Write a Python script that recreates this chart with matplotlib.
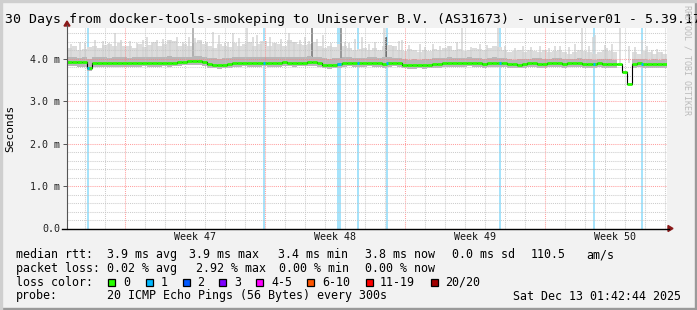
import numpy as np
import pandas as pd
import matplotlib
matplotlib.use("Agg")
import matplotlib.pyplot as plt
from matplotlib.patches import Rectangle, Polygon
from matplotlib.lines import Line2D
from matplotlib.ticker import FixedLocator, FuncFormatter

W, H = 697, 310
START = pd.Timestamp("2025-11-13 02:50")
N_DAYS = 30
MONO = "DejaVu Sans Mono"

# median rtt in ms, one value per 6 h step
median_ms = [
    3.93, 3.93, 3.92, 3.92, 3.78,
    3.89, 3.89, 3.90, 3.89, 3.89,
    3.90, 3.89, 3.89, 3.90, 3.90, 3.91,
    3.90, 3.89, 3.90, 3.91, 3.90,
    3.91, 3.92, 3.93, 3.94, 3.95, 3.94, 3.92,
    3.87, 3.86, 3.85, 3.86, 3.87, 3.89,
    3.90, 3.91, 3.90, 3.89, 3.90, 3.91, 3.90, 3.89, 3.90, 3.92, 3.91, 3.90, 3.91,
    3.91, 3.93, 3.92, 3.89, 3.86, 3.85, 3.86, 3.88,
    3.90, 3.91, 3.90, 3.89, 3.90, 3.91, 3.90, 3.89, 3.88, 3.90, 3.91, 3.90,
    3.86, 3.85, 3.85, 3.86, 3.85, 3.86, 3.87, 3.88, 3.89, 3.90,
    3.90, 3.89, 3.90, 3.91, 3.90, 3.89, 3.88, 3.89, 3.90, 3.90, 3.89, 3.88, 3.87, 3.86,
    3.88, 3.89, 3.90, 3.88, 3.87, 3.89, 3.90, 3.89, 3.88, 3.89,
    3.90, 3.89, 3.88, 3.87, 3.88, 3.89, 3.88, 3.87, 3.88, 3.88,
    3.69, 3.40,
    3.88, 3.89, 3.88, 3.87, 3.88, 3.87, 3.88,
]

# smoke (ping spread) per 6 h step: top of light band, top of dark band, bottom
smoke_top_ms = [
    4.25, 4.30, 4.20, 4.22, 4.28, 4.30, 4.25, 4.32, 4.35, 4.30, 4.38, 4.30,
    4.30, 4.25, 4.35, 4.28, 4.32, 4.40, 4.30, 4.35, 4.45, 4.42, 4.30, 4.35,
    4.30, 4.38, 4.45, 4.35, 4.30, 4.25, 4.35, 4.30, 4.28, 4.38, 4.30, 4.35,
    4.40, 4.30, 4.35, 4.42, 4.30, 4.38, 4.35, 4.30, 4.45, 4.40, 4.35, 4.32,
    4.35, 4.40, 4.30, 4.25, 4.30, 4.28, 4.35, 4.30, 4.25, 4.20, 4.22, 4.25,
    4.20, 4.25, 4.20, 4.30, 4.32, 4.30, 4.20, 4.18, 4.22, 4.20, 4.15, 4.20,
    4.18, 4.22, 4.20, 4.25, 4.30, 4.20, 4.22, 4.18, 4.20, 4.25, 4.22, 4.20,
    4.25, 4.30, 4.28, 4.20, 4.15, 4.18, 4.20, 4.15, 4.20, 4.18, 4.15, 4.20,
    4.15, 4.18, 4.20, 4.15, 4.12, 4.15, 4.20, 4.18, 4.15, 4.12, 4.15, 4.20,
    4.18, 4.15, 4.20, np.nan, np.nan, 4.15, 4.12, 4.18, 4.15, 4.12, 4.15, 4.10,
]
smoke_mid_ms = [
    4.03, 4.04, 4.02, 4.03, 4.00, 4.04, 4.03, 4.05, 4.02, 4.03, 4.04, 4.03,
    4.02, 4.04, 4.05, 4.03, 4.04, 4.05, 4.03, 4.04, 4.06, 4.05, 4.03, 4.04,
    4.05, 4.06, 4.07, 4.05, 4.02, 4.01, 4.00, 4.01, 4.02, 4.03, 4.04, 4.05,
    4.04, 4.03, 4.04, 4.05, 4.03, 4.04, 4.03, 4.04, 4.05, 4.04, 4.03, 4.05,
    4.06, 4.05, 4.03, 4.01, 4.00, 4.01, 4.02, 4.03, 4.04, 4.02, 4.01, 4.02,
    4.03, 4.04, 4.02, 4.03, 4.04, 4.02, 4.01, 3.99, 3.98, 3.99, 3.98, 3.99,
    4.00, 4.01, 4.02, 4.02, 4.03, 4.02, 4.01, 4.02, 4.03, 4.02, 4.01, 4.00,
    4.02, 4.03, 4.02, 4.01, 3.99, 3.98, 4.00, 3.99, 4.00, 4.01, 4.02, 4.00,
    3.99, 4.01, 4.02, 4.00, 3.99, 4.00, 4.01, 4.00, 3.99, 3.98, 3.99, 4.00,
    3.99, 3.98, 3.99, np.nan, np.nan, 3.99, 4.00, 3.99, 3.98, 3.99, 3.98, 3.99,
]
smoke_low_ms = [
    3.82, 3.82, 3.81, 3.81, 3.72, 3.80, 3.80, 3.81, 3.80, 3.80, 3.81, 3.80,
    3.80, 3.81, 3.81, 3.82, 3.81, 3.80, 3.81, 3.82, 3.81, 3.82, 3.83, 3.84,
    3.84, 3.85, 3.84, 3.83, 3.78, 3.77, 3.76, 3.77, 3.78, 3.80, 3.81, 3.82,
    3.81, 3.80, 3.81, 3.82, 3.81, 3.80, 3.81, 3.83, 3.82, 3.81, 3.82, 3.82,
    3.83, 3.83, 3.80, 3.77, 3.76, 3.77, 3.79, 3.81, 3.82, 3.81, 3.80, 3.81,
    3.82, 3.81, 3.80, 3.79, 3.81, 3.82, 3.81, 3.77, 3.76, 3.76, 3.77, 3.76,
    3.77, 3.78, 3.79, 3.80, 3.81, 3.81, 3.80, 3.81, 3.82, 3.81, 3.80, 3.79,
    3.80, 3.81, 3.81, 3.80, 3.79, 3.78, 3.77, 3.79, 3.80, 3.81, 3.79, 3.78,
    3.80, 3.81, 3.80, 3.79, 3.80, 3.81, 3.80, 3.79, 3.78, 3.79, 3.80, 3.79,
    3.78, 3.79, 3.79, np.nan, np.nan, 3.79, 3.80, 3.79, 3.78, 3.79, 3.78, 3.79,
]

# single tall smoke columns: day since start, top (ms)
spike_day = [0.2, 0.65, 0.9, 1.4, 1.8, 2.1, 2.4, 2.7, 3.15, 3.5, 3.8, 4.0, 4.25,
             4.5, 4.8, 5.15, 5.5, 5.8, 6.1, 6.4, 6.7, 7.0, 7.3, 7.6, 7.9, 8.05,
             8.3, 8.6, 9.0, 9.3, 9.5, 9.7, 10.15, 10.4, 10.7, 11.1, 11.35, 11.65,
             11.9, 12.1, 12.5, 12.8, 13.2, 13.9, 14.1, 14.4, 14.75, 15.1, 15.4,
             15.85, 16.3, 16.6, 16.75, 17.1, 17.65, 17.9, 18.3, 18.65, 19.1,
             19.5, 19.75, 20.2, 20.65, 21.0, 21.55, 21.9, 22.4, 22.8, 23.2,
             23.65, 24.1, 24.4, 24.65, 25.1, 25.4, 25.75, 26.1, 26.3, 26.4,
             26.9, 27.0, 27.25, 27.65, 28.1, 28.4, 28.75, 29.0, 29.25, 29.5, 29.75]
spike_top_ms = [4.35, 4.40, 4.38, 4.45, 4.42, 4.36, 4.60, 4.45, 4.42, 4.38, 4.44,
                4.50, 4.36, 4.44, 4.46, 4.45, 4.52, 4.40, 4.50, 4.48, 4.42, 4.40,
                4.64, 4.55, 4.38, 4.40, 4.60, 4.48, 4.72, 4.50, 4.56, 4.42, 4.50,
                4.38, 4.46, 4.60, 4.40, 4.45, 4.50, 4.42, 4.46, 4.55, 4.38, 4.40,
                4.36, 4.46, 4.52, 4.35, 4.40, 4.72, 4.30, 4.42, 4.45, 4.32, 4.35,
                4.28, 4.35, 4.30, 4.30, 4.40, 4.72, 4.28, 4.35, 4.32, 4.72, 4.30,
                4.25, 4.30, 4.28, 4.30, 4.25, 4.30, 4.30, 4.28, 4.35, 4.72, 4.30,
                4.52, 4.56, 4.32, 4.25, 4.35, 4.72, 4.30, 4.28, 4.44, 4.30, 4.20,
                4.22, 4.16]
dark_spike_day = [6.3, 12.25, 13.7, 15.95]
dark_spike_low = [4.00, 3.95, 3.95, 3.95]
dark_spike_top = [4.72, 4.72, 4.72, 4.50]
dark_spike_color = ["#a8a8a8", "#7c7c7c", "#8c8c8c", "#5c5c5c"]

# packet loss events (1 of 20 lost): day since start, duration in hours
loss_day = [1.05, 9.85, 13.6, 14.55, 16.0, 21.65, 26.37, 28.75]
loss_hours = [2.0, 2.0, 4.8, 2.4, 2.4, 2.4, 2.4, 2.4]

loss_labels = ["0", "1", "2", "3", "4-5", "6-10", "11-19", "20/20"]
loss_colors = ["#26ff00", "#00b8ff", "#0059ff", "#7e00ff",
               "#ff00ff", "#ff5500", "#ff0000", "#a10000"]

median_stats = ["3.9 ms avg", "3.9 ms max", "3.4 ms min", "3.8 ms now",
                "0.0 ms sd", "110.5", "am/s"]
loss_stats = ["0.02 % avg", "2.92 % max", "0.00 % min", "0.00 % now"]
title = ("30 Days from docker-tools-smokeping to Uniserver B.V. (AS31673)"
         " - uniserver01 - 5.39.17")
probe_text = "20 ICMP Echo Pings (56 Bytes) every 300s"
stamp_text = "Sat Dec 13 01:42:44 2025"


def fx(x):
    return x / W


def fy(y):
    return 1 - y / H


def day(d):
    return START + pd.Timedelta(days=d)


fig = plt.figure(figsize=(W / 100, H / 100), dpi=100, facecolor="#f2f2f2")

# 3d-ish frame
fig.add_artist(Rectangle((0, 0), 1, 2 / H, transform=fig.transFigure, color="#9a9a9a"))
fig.add_artist(Rectangle((1 - 2 / W, 0), 2 / W, 1, transform=fig.transFigure, color="#9a9a9a"))
fig.add_artist(Rectangle((0, 1 - 2 / H), 1, 2 / H, transform=fig.transFigure, color="#cfcfcf"))
fig.add_artist(Rectangle((0, 0), 2 / W, 1, transform=fig.transFigure, color="#cfcfcf"))

ymax = 200.5 / 42.45
ax = fig.add_axes([fx(67), fy(228.5), 600 / W, 200.5 / H])
ax.set_facecolor("white")
ax.set_xlim(START, START + pd.Timedelta(days=N_DAYS))
ax.set_ylim(0, ymax)

t = pd.date_range(START, periods=len(median_ms) + 1, freq="6h")
ext = lambda v: list(v) + [v[-1]]

# loss background bars
for d, hrs in zip(loss_day, loss_hours):
    x0 = day(d) - pd.Timedelta(hours=hrs / 2)
    ax.axvspan(x0, x0 + pd.Timedelta(hours=hrs), color="#a6e3fb", lw=0, zorder=0.5)

# smoke
ax.fill_between(t, ext(smoke_low_ms), ext(smoke_top_ms), step="post",
                color="#dcdcdc", lw=0, zorder=1)
for d, top in zip(spike_day, spike_top_ms):
    ax.vlines(day(d), 3.9, top, color="#d4d4d4", lw=1.1, zorder=1.1)
for d, lo, hi, c in zip(dark_spike_day, dark_spike_low, dark_spike_top, dark_spike_color):
    ax.vlines(day(d), lo, hi, color=c, lw=1.2, zorder=1.2)
ax.fill_between(t, ext(smoke_low_ms), ext(smoke_mid_ms), step="post",
                color="#b8b8b8", lw=0, zorder=1.3)

# median: thin black step line + green per-step segments
ax.step(t, ext(median_ms), where="post", color="black", lw=0.8, zorder=3)
ax.hlines(median_ms, t[:-1], t[1:], color=loss_colors[0], lw=2.0, zorder=3.1)
for d, hrs in zip(loss_day, loss_hours):
    i = int(d * 4)
    x0 = day(d) - pd.Timedelta(hours=hrs / 2)
    ax.hlines(median_ms[i], x0, x0 + pd.Timedelta(hours=hrs),
              color=loss_colors[1], lw=2.0, zorder=3.2)

# grid drawn over the data, rrdtool style
days = pd.date_range("2025-11-14", "2025-12-13", freq="D")
weeks = pd.date_range("2025-11-16", periods=4, freq="7D")
ax.xaxis.set_major_locator(FixedLocator([matplotlib.dates.date2num(w) for w in weeks]))
ax.xaxis.set_minor_locator(FixedLocator([matplotlib.dates.date2num(d) for d in days]))
ax.yaxis.set_major_locator(FixedLocator([0, 1, 2, 3, 4]))
ax.yaxis.set_minor_locator(FixedLocator(np.arange(0.2, 4.8, 0.2)))
ax.yaxis.set_major_formatter(FuncFormatter(lambda v, p: "0.0" if v == 0 else f"{v:.1f} m"))
ax.set_axisbelow(False)
ax.grid(which="minor", color="#c4c4c4", lw=0.75, linestyle=(0, (1, 1)), alpha=0.85)
ax.grid(which="major", color="#ff8080", lw=0.75, linestyle=(0, (1, 1)), alpha=0.75)
ax.tick_params(axis="x", which="both", length=0, labelbottom=False)
ax.tick_params(axis="y", which="major", length=3, width=0.7, color="#555555",
               pad=2, labelsize=7.2, labelfontfamily=MONO, labelcolor="#222222")
ax.tick_params(axis="y", which="minor", length=0)
for s in ax.spines.values():
    s.set_visible(False)

for w in weeks:
    ax.text(w + pd.Timedelta(days=3.5), -8.5 / 200.5,
            "Week %d" % (w + pd.Timedelta(days=3)).isocalendar()[1],
            transform=ax.get_xaxis_transform(), ha="center", va="center",
            fontsize=7.2, family=MONO, color="#111111")

# axes lines and arrows
fig.add_artist(Line2D([fx(67), fx(67)], [fy(228.5), fy(25)], color="#555555", lw=0.8))
fig.add_artist(Line2D([fx(62), fx(669)], [fy(228.5), fy(228.5)], color="black", lw=1.0))
fig.add_artist(Polygon([[fx(64), fy(26)], [fx(70), fy(26)], [fx(67), fy(21)]],
                       closed=True, color="#8b1a1a", transform=fig.transFigure))
fig.add_artist(Polygon([[fx(668), fy(225.5)], [fx(668), fy(231.5)], [fx(673), fy(228.5)]],
                       closed=True, color="#8b1a1a", transform=fig.transFigure))

# texts
fig.text(fx(5), fy(19), title, ha="left", va="center", fontsize=9.5, family=MONO)
fig.text(fx(10), fy(128), "Seconds", rotation=90, ha="center", va="center",
         fontsize=8, family=MONO)
fig.text(fx(687), fy(5), "RRDTOOL / TOBI OETIKER", rotation=270, ha="center", va="top",
         fontsize=6, family=MONO, color="#bbbbbb")

LEG = dict(fontsize=8.4, family=MONO, va="center", ha="left")
rows = [254.5, 268.3, 282.3, 296.0]
fig.text(fx(16), fy(rows[0]), "median rtt:", **LEG)
for s, x in zip(median_stats, [107, 189, 278, 365, 452, 531, 586]):
    fig.text(fx(x), fy(rows[0]), s, **LEG)
fig.text(fx(16), fy(rows[1]), "packet loss:", **LEG)
for s, x in zip(loss_stats, [107, 196, 279, 365]):
    fig.text(fx(x), fy(rows[1]), s, **LEG)
fig.text(fx(16), fy(rows[2]), "loss color:", **LEG)
box_x = [108, 146, 183, 219, 256, 307, 366, 431]
lab_x = [123, 161, 197, 234, 271, 322, 380, 445]
for lab, c, bx, lx in zip(loss_labels, loss_colors, box_x, lab_x):
    fig.add_artist(Rectangle((fx(bx), fy(286)), 7 / W, 7 / H, transform=fig.transFigure,
                             facecolor=c, edgecolor="black", lw=0.9))
    fig.text(fx(lx), fy(rows[2]), lab, **LEG)
fig.text(fx(16), fy(rows[3]), "probe:", **LEG)
fig.text(fx(107), fy(rows[3]), probe_text, **LEG)
fig.text(fx(513), fy(rows[3]), stamp_text, **LEG)

fig.savefig("out.png", dpi=100, facecolor=fig.get_facecolor())
